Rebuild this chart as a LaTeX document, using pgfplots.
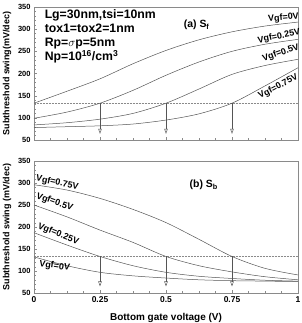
\documentclass[border=0pt]{standalone}
\usepackage{fontspec}
\setmainfont{Liberation Sans}
\usepackage{pgfplots}
\pgfplotsset{compat=1.18}
\usetikzlibrary{arrows.meta}
\definecolor{crv}{HTML}{555555}
\definecolor{axc}{HTML}{8A8A8A}
\tikzset{lbl/.style={font=\bfseries\fontsize{9}{10}\selectfont, inner sep=0pt}}
\pgfplotsset{
  myax/.style={
    scale only axis, width=264bp, anchor=south west,
    xmin=0, xmax=1, ymin=50, ymax=350,
    xtick={0,0.25,0.5,0.75,1}, minor x tick num=3,
    ytick={50,100,...,350}, minor y tick num=4,
    xtick pos=bottom, ytick pos=left, tick align=inside,
    axis line style={axc, line width=0.6pt},
    major tick style={axc}, minor tick style={axc},
    major tick length=3pt, minor tick length=1.8pt,
    /pgf/number format/assume math mode=true,
    yticklabel style={font=\bfseries\fontsize{7.5}{9}\selectfont},
    xticklabel style={font=\bfseries\fontsize{8.5}{10}\selectfont},
    ylabel style={font=\bfseries\fontsize{9}{10}\selectfont, at={(axis description cs:-0.102,0.5)}, anchor=center, rotate=0},
    xlabel style={font=\bfseries\fontsize{10}{12}\selectfont},
    clip=false,
  },
  crvs/.style={crv, line width=0.5pt, smooth, no marks},
  arr/.style={crv, line width=0.5pt, no marks, -{Triangle[open,width=3.5pt,length=5pt]}},
}
\begin{document}
\begin{tikzpicture}
\path[use as bounding box] (0,0) rectangle (302bp,323bp);
% ---------- (a) Sf ----------
\begin{axis}[myax, at={(34bp,183bp)}, height=133bp, xticklabels={},
  ylabel={Subthreshold swing(mV/dec)}]
\addplot[densely dotted, axc, line width=0.5pt] coordinates {(0,133) (1,133)};
\addplot[crvs] coordinates {(0,133) (0.125,160) (0.25,188) (0.375,222) (0.5,252) (0.625,276) (0.75,294) (0.875,307) (1,316)};
\addplot[crvs] coordinates {(0,99) (0.125,113) (0.25,133) (0.375,162) (0.5,196) (0.625,226) (0.75,250) (0.875,266) (1,277)};
\addplot[crvs] coordinates {(0,84) (0.125,89) (0.25,97) (0.375,110) (0.5,133) (0.625,165) (0.75,198) (0.875,218) (1,232)};
\addplot[crvs] coordinates {(0,78) (0.125,80) (0.25,82) (0.375,86) (0.5,95) (0.625,109) (0.75,133) (0.875,172) (1,213)};
\addplot[arr] coordinates {(0.25,133) (0.25,64)};
\addplot[arr] coordinates {(0.5,133) (0.5,64)};
\addplot[arr] coordinates {(0.75,133) (0.75,64)};
\node[anchor=north west, align=left, font=\bfseries\fontsize{12.3}{14}\selectfont, inner sep=0pt]
  at (axis cs:0.04,344) {Lg=30nm,tsi=10nm\\tox1=tox2=1nm\\Rp=$\sigma$p=5nm\\Np=10$^{\mathbf{16}}$/cm$^{\mathbf{3}}$};
\node[font=\bfseries\fontsize{10.5}{12}\selectfont, inner sep=0pt] at (axis cs:0.616,309) {(a) S$_{\mathbf{f}}$};
\node[lbl, rotate=5] at (axis cs:0.945,325) {Vgf=0V};
\node[lbl, rotate=11] at (axis cs:0.928,283) {Vgf=0.25V};
\node[lbl, rotate=19] at (axis cs:0.935,246) {Vgf=0.5V};
\node[lbl, rotate=28] at (axis cs:0.925,170) {Vgf=0.75V};
\end{axis}
% ---------- (b) Sb ----------
\begin{axis}[myax, at={(34bp,30bp)}, height=132bp,
  xticklabels={0,0.25,0.5,0.75,1},
  ylabel={Subthreshold swing (mV/dec)},
  xlabel={Bottom gate voltage (V)},
  xlabel style={at={(axis description cs:0.5,-0.19)}, anchor=center}]
\addplot[densely dotted, axc, line width=0.5pt] coordinates {(0,133) (1,133)};
\addplot[crvs] coordinates {(0,296) (0.125,284) (0.25,265) (0.375,240) (0.5,210) (0.625,172) (0.75,133) (0.875,106) (1,91)};
\addplot[crvs] coordinates {(0,250) (0.125,223) (0.25,193) (0.375,165) (0.5,133) (0.625,112) (0.75,98) (0.875,87) (1,80)};
\addplot[crvs] coordinates {(0,187) (0.125,159) (0.25,133) (0.375,112) (0.5,97) (0.625,88) (0.75,83) (0.875,79) (1,77)};
\addplot[crvs] coordinates {(0,132) (0.125,112) (0.25,97) (0.375,89) (0.5,84) (0.625,80) (0.75,78) (0.875,77) (1,76)};
\addplot[arr] coordinates {(0.25,133) (0.25,65)};
\addplot[arr] coordinates {(0.5,133) (0.5,65)};
\addplot[arr] coordinates {(0.75,133) (0.75,65)};
\node[font=\bfseries\fontsize{10.5}{12}\selectfont, inner sep=0pt] at (axis cs:0.643,295) {(b) S$_{\mathbf{b}}$};
\node[lbl, rotate=-12] at (axis cs:0.088,300) {Vgf=0.75V};
\node[lbl, rotate=-20] at (axis cs:0.078,256) {Vgf=0.5V};
\node[lbl, rotate=-22] at (axis cs:0.092,184) {Vgf=0.25V};
\node[lbl, rotate=-8] at (axis cs:0.078,111) {Vgf=0V};
\end{axis}
\end{tikzpicture}
\end{document}
